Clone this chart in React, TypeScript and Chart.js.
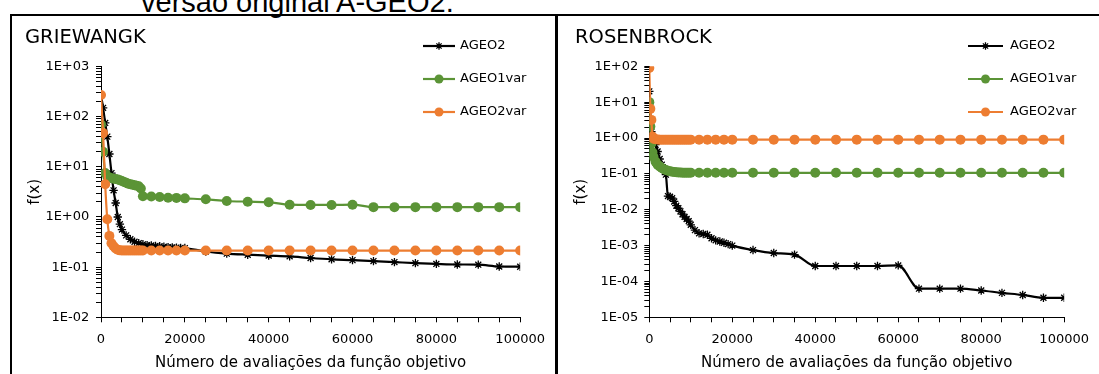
import React, { useEffect, useRef } from "react";
import { Chart, registerables } from "chart.js";
import { drawPoint } from "chart.js/helpers";

Chart.register(...registerables);

const FONT = '"DejaVu Sans", sans-serif';
const BLACK = "#000000";
const GREEN = "#5b9436";
const ORANGE = "#ed7d31";

const seriesLabels = ["AGEO2", "AGEO1var", "AGEO2var"];
const xAxisTitle = "Número de avaliações da função objetivo";
const yAxisTitle = "f(x)";
const caption = "versão original A-GEO2.";

// x-axis ticks (every 5000) and the ones that carry a label
const xTicks = [0, 5000, 10000, 15000, 20000, 25000, 30000, 35000, 40000, 45000, 50000,
  55000, 60000, 65000, 70000, 75000, 80000, 85000, 90000, 95000, 100000];
const xTickLabels = [0, 20000, 40000, 60000, 80000, 100000];
const minorMantissas = [1, 2, 3, 4, 5, 6, 7, 8, 9];
const grieDecades = [-2, -1, 0, 1, 2, 3];
const rosenDecades = [-5, -4, -3, -2, -1, 0, 1, 2];

// ---------- GRIEWANGK ----------
const grieX_AGEO2 = [0, 500, 1000, 1500, 2000, 2500, 3000, 3500, 4000, 4500, 5000,
  6000, 7000, 8000, 9000, 10000, 11000, 12000, 13000, 14000, 15000, 16000, 17000, 18000, 19000, 20000,
  25000, 30000, 35000, 40000, 45000, 50000, 55000, 60000, 65000, 70000, 75000, 80000, 85000, 90000, 95000, 100000];
const grieY_AGEO2 = [270, 150, 75, 40, 18, 7.5, 3.4, 1.9, 1.0, 0.72, 0.56,
  0.43, 0.36, 0.32, 0.3, 0.285, 0.275, 0.27, 0.265, 0.26, 0.255, 0.25, 0.248, 0.245, 0.242, 0.24,
  0.205, 0.186, 0.177, 0.17, 0.164, 0.152, 0.143, 0.138, 0.132, 0.126, 0.12, 0.116, 0.113, 0.112, 0.103, 0.102];

const grieX_AGEO1var = [0, 500, 1000, 1500, 2000, 2500, 3000, 3500, 4000, 4500, 5000, 5500, 6000, 6500,
  7000, 7500, 8000, 8500, 9000, 9500, 10000, 12000, 14000, 16000, 18000, 20000,
  25000, 30000, 35000, 40000, 45000, 50000, 55000, 60000, 65000, 70000, 75000, 80000, 85000, 90000, 95000, 100000];
const grieY_AGEO1var = [70, 20, 7.5, 6.4, 6.1, 5.9, 5.8, 5.7, 5.6, 5.4, 5.2, 5.0, 4.8, 4.6,
  4.5, 4.4, 4.3, 4.2, 4.1, 3.7, 2.6, 2.55, 2.5, 2.42, 2.4, 2.35,
  2.25, 2.08, 2.02, 1.97, 1.76, 1.74, 1.74, 1.76, 1.57, 1.57, 1.57, 1.57, 1.57, 1.57, 1.57, 1.57];

const grieX_AGEO2var = [0, 500, 1000, 1500, 2000, 2500, 3000, 3500, 4000, 4500, 5000, 5500, 6000, 6500,
  7000, 7500, 8000, 8500, 9000, 9500, 10000, 12000, 14000, 16000, 18000, 20000,
  25000, 30000, 35000, 40000, 45000, 50000, 55000, 60000, 65000, 70000, 75000, 80000, 85000, 90000, 95000, 100000];
const grieY_AGEO2var = [270, 47, 4.5, 0.9, 0.42, 0.3, 0.26, 0.235, 0.222, 0.216, 0.214, 0.214, 0.214, 0.214,
  0.214, 0.214, 0.214, 0.214, 0.214, 0.214, 0.214, 0.214, 0.214, 0.214, 0.214, 0.214,
  0.214, 0.214, 0.214, 0.214, 0.214, 0.214, 0.214, 0.214, 0.214, 0.214, 0.214, 0.214, 0.214, 0.214, 0.214, 0.214];

// ---------- ROSENBROCK ----------
const rosenX_AGEO2 = [0, 500, 1000, 1500, 2000, 2500, 3000, 3500, 4000, 4500, 5000, 5500, 6000, 6500,
  7000, 7500, 8000, 8500, 9000, 9500, 10000, 11000, 12000, 13000, 14000, 15000, 16000, 17000, 18000, 19000, 20000,
  25000, 30000, 35000, 40000, 45000, 50000, 55000, 60000, 65000, 70000, 75000, 80000, 85000, 90000, 95000, 100000];
const rosenY_AGEO2 = [20, 1.5, 0.9, 0.65, 0.42, 0.26, 0.18, 0.13, 0.095, 0.024, 0.023, 0.021, 0.017, 0.013,
  0.011, 0.009, 0.0075, 0.0063, 0.0055, 0.0048, 0.0038, 0.0027, 0.0022, 0.0021, 0.002, 0.0016, 0.0014, 0.0013, 0.0012, 0.0011, 0.001,
  0.00075, 0.00062, 0.00056, 0.00027, 0.00027, 0.00027, 0.00027, 0.00028, 0.000063, 0.000063, 0.000063, 0.000056, 0.000048, 0.000042, 0.000035, 0.000035];

const rosenX_AGEO1var = [0, 250, 500, 750, 1000, 1500, 2000, 2500, 3000, 3500, 4000, 4500, 5000, 5500, 6000, 6500,
  7000, 7500, 8000, 8500, 9000, 9500, 10000, 12000, 14000, 16000, 18000, 20000,
  25000, 30000, 35000, 40000, 45000, 50000, 55000, 60000, 65000, 70000, 75000, 80000, 85000, 90000, 95000, 100000];
const rosenY_AGEO1var = [10, 2.1, 0.7, 0.4, 0.3, 0.22, 0.18, 0.16, 0.145, 0.135, 0.128, 0.122, 0.118, 0.115, 0.113, 0.111,
  0.11, 0.109, 0.108, 0.108, 0.107, 0.107, 0.107, 0.107, 0.107, 0.107, 0.107, 0.107,
  0.107, 0.107, 0.107, 0.107, 0.107, 0.107, 0.107, 0.107, 0.107, 0.107, 0.107, 0.107, 0.107, 0.107, 0.107, 0.107];

const rosenX_AGEO2var = [0, 250, 500, 750, 1000, 1500, 2000, 2500, 3000, 3500, 4000, 4500, 5000, 5500, 6000, 6500,
  7000, 7500, 8000, 8500, 9000, 9500, 10000, 12000, 14000, 16000, 18000, 20000,
  25000, 30000, 35000, 40000, 45000, 50000, 55000, 60000, 65000, 70000, 75000, 80000, 85000, 90000, 95000, 100000];
const rosenY_AGEO2var = [90, 6.5, 3.2, 1.1, 0.95, 0.92, 0.91, 0.9, 0.9, 0.9, 0.9, 0.9, 0.9, 0.9, 0.9, 0.9,
  0.9, 0.9, 0.9, 0.9, 0.9, 0.9, 0.9, 0.9, 0.9, 0.9, 0.9, 0.9,
  0.9, 0.9, 0.9, 0.9, 0.9, 0.9, 0.9, 0.9, 0.9, 0.9, 0.9, 0.9, 0.9, 0.9, 0.9, 0.9];

function zip(xs: number[], ys: number[]) {
  return xs.map((x, i) => ({ x, y: ys[i] }));
}

function decadeTicks(decades: number[]) {
  const out: number[] = [];
  for (let i = 0; i < decades.length - 1; i++) {
    for (const m of minorMantissas) out.push(Number((m * Math.pow(10, decades[i])).toPrecision(3)));
  }
  out.push(Math.pow(10, decades[decades.length - 1]));
  return out;
}

function fmtExp(v: number) {
  const l = Math.log10(v);
  const e = Math.round(l);
  if (Math.abs(l - e) > 1e-6) return "";
  const s = e < 0 ? "-" : "+";
  return `1E${s}${String(Math.abs(e)).padStart(2, "0")}`;
}

const customLegendPlugin = {
  id: "customLegend",
  afterDraw(chart: any, _args: any, opts: any) {
    const ctx = chart.ctx as CanvasRenderingContext2D;
    ctx.save();
    ctx.fillStyle = "#000";
    ctx.font = `19.5px ${FONT}`;
    ctx.textAlign = "left";
    ctx.textBaseline = "alphabetic";
    ctx.fillText(opts.title, opts.titleX, opts.titleY);
    chart.data.datasets.forEach((ds: any, i: number) => {
      const y = opts.rowY[i];
      ctx.strokeStyle = ds.borderColor;
      ctx.lineWidth = ds.borderWidth;
      ctx.beginPath();
      ctx.moveTo(opts.lineX0, y);
      ctx.lineTo(opts.lineX1, y);
      ctx.stroke();
      ctx.fillStyle = ds.pointBackgroundColor || ds.borderColor;
      ctx.strokeStyle = ds.pointBorderColor || ds.borderColor;
      ctx.lineWidth = ds.pointBorderWidth;
      drawPoint(ctx, { pointStyle: ds.pointStyle, rotation: 0, radius: ds.pointRadius - 0.5, borderWidth: ds.pointBorderWidth } as any,
        (opts.lineX0 + opts.lineX1) / 2, y);
      ctx.fillStyle = "#000";
      ctx.font = `13px ${FONT}`;
      ctx.textBaseline = "middle";
      ctx.fillText(ds.label, opts.textX, y);
    });
    ctx.restore();
  },
};

type Panel = {
  title: string;
  x: number[][];
  y: number[][];
  decades: number[];
  yAxisWidth: number;
  padRight: number;
  padTop: number;
  xAxisHeight: number;
  yTickPad: number;
  titleX: number;
  lineX0: number;
  lineX1: number;
  textX: number;
};

function makeConfig(p: Panel): any {
  const yTicks = decadeTicks(p.decades);
  const colors = [BLACK, GREEN, ORANGE];
  const datasets = [0, 1, 2].map((i) => ({
    label: seriesLabels[i],
    data: zip(p.x[i], p.y[i]),
    borderColor: colors[i],
    backgroundColor: colors[i],
    pointBackgroundColor: colors[i],
    pointBorderColor: colors[i],
    borderWidth: 2.2,
    pointStyle: i === 0 ? "star" : "circle",
    pointRadius: i === 0 ? 4.2 : 5,
    pointBorderWidth: i === 0 ? 1.3 : 0,
    cubicInterpolationMode: "monotone",
    tension: 0.4,
    order: 2 - i,
  }));
  return {
    type: "line",
    data: { datasets },
    options: {
      responsive: false,
      animation: false,
      events: [],
      layout: { padding: { left: 0, right: p.padRight, top: p.padTop, bottom: 0 } },
      plugins: {
        legend: { display: false },
        tooltip: { enabled: false },
        title: { display: false },
        customLegend: {
          title: p.title,
          titleX: p.titleX,
          titleY: 26.9,
          rowY: [30, 63, 96],
          lineX0: p.lineX0,
          lineX1: p.lineX1,
          textX: p.textX,
        },
      },
      scales: {
        x: {
          type: "linear",
          min: 0,
          max: 100000,
          afterBuildTicks: (s: any) => {
            s.ticks = xTicks.map((v) => ({ value: v }));
          },
          afterFit: (s: any) => {
            s.height = p.xAxisHeight;
          },
          ticks: {
            autoSkip: false,
            maxRotation: 0,
            padding: 10,
            color: "#000",
            font: { family: FONT, size: 13 },
            callback: (v: any) => (xTickLabels.includes(Number(v)) ? String(v) : ""),
          },
          grid: { drawOnChartArea: false, drawTicks: true, tickLength: 5, color: "#000" },
          border: { display: true, color: "#000", width: 1 },
          title: {
            display: true,
            text: xAxisTitle,
            color: "#000",
            font: { family: FONT, size: 15 },
            padding: { top: 0, bottom: 2 },
          },
        },
        y: {
          type: "logarithmic",
          min: yTicks[0],
          max: yTicks[yTicks.length - 1],
          afterBuildTicks: (s: any) => {
            s.ticks = yTicks.map((v) => ({ value: v }));
          },
          afterFit: (s: any) => {
            s.width = p.yAxisWidth;
          },
          ticks: {
            autoSkip: false,
            padding: p.yTickPad,
            color: "#000",
            font: { family: FONT, size: 13 },
            callback: (v: any) => fmtExp(Number(v)),
          },
          grid: { drawOnChartArea: false, drawTicks: true, tickLength: 5, color: "#000" },
          border: { display: true, color: "#000", width: 1 },
          title: {
            display: true,
            text: yAxisTitle,
            color: "#000",
            font: { family: FONT, size: 15 },
            padding: { top: 14.5, bottom: 0 },
          },
        },
      },
    },
    plugins: [customLegendPlugin],
  };
}

function ChartPanel({ panel, left, top, width, height }: { panel: Panel; left: number; top: number; width: number; height: number }) {
  const ref = useRef<HTMLCanvasElement>(null);
  useEffect(() => {
    const chart = new Chart(ref.current as HTMLCanvasElement, makeConfig(panel));
    return () => chart.destroy();
  }, []);
  return (
    <canvas
      ref={ref}
      width={width}
      height={height}
      style={{ position: "absolute", left, top, width, height }}
    />
  );
}

const griePanel: Panel = {
  title: "GRIEWANGK",
  x: [grieX_AGEO2, grieX_AGEO1var, grieX_AGEO2var],
  y: [grieY_AGEO2, grieY_AGEO1var, grieY_AGEO2var],
  decades: grieDecades,
  yAxisWidth: 89,
  padRight: 28.5,
  padTop: 50.5,
  xAxisHeight: 56.7,
  yTickPad: 6.7,
  titleX: 13,
  lineX0: 411,
  lineX1: 443,
  textX: 448,
};

const rosenPanel: Panel = {
  title: "ROSENBROCK",
  x: [rosenX_AGEO2, rosenX_AGEO1var, rosenX_AGEO2var],
  y: [rosenY_AGEO2, rosenY_AGEO1var, rosenY_AGEO2var],
  decades: rosenDecades,
  yAxisWidth: 91.3,
  padRight: 27.3,
  padTop: 50.3,
  xAxisHeight: 56.7,
  yTickPad: 6,
  titleX: 17,
  lineX0: 410,
  lineX1: 445,
  textX: 452,
};

export default function App() {
  return (
    <div style={{ position: "absolute", left: 0, top: 0, width: 1099, height: 374, overflow: "hidden", background: "#fff" }}>
      <div
        style={{
          position: "absolute",
          left: 141,
          top: -12,
          fontFamily: '"Liberation Sans", Arial, sans-serif',
          fontSize: 29,
          lineHeight: "29px",
          color: "#000",
          whiteSpace: "nowrap",
        }}
      >
        {caption}
      </div>
      <div
        style={{
          position: "absolute",
          left: 10,
          top: 14,
          width: 2000,
          height: 1000,
          borderLeft: "2px solid #000",
          borderTop: "2px solid #000",
        }}
      />
      <div style={{ position: "absolute", left: 555, top: 14, width: 3, height: 400, background: "#000" }} />
      <ChartPanel panel={griePanel} left={12} top={16} width={543} height={358} />
      <ChartPanel panel={rosenPanel} left={558} top={16} width={541} height={358} />
    </div>
  );
}
